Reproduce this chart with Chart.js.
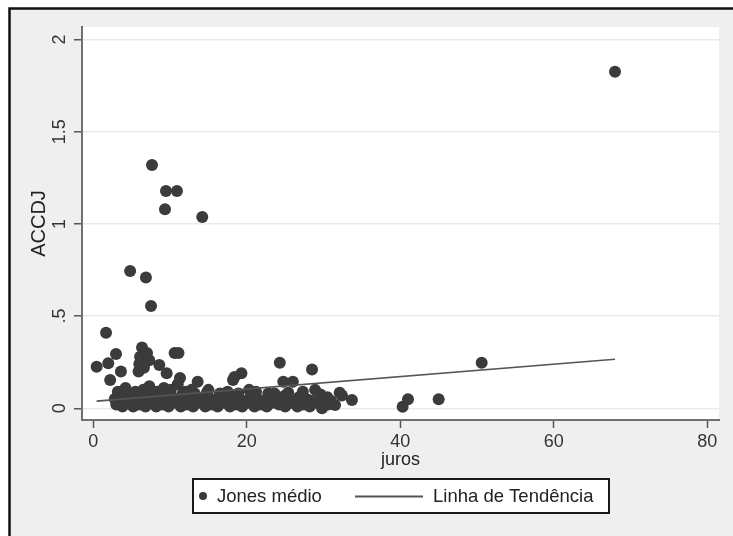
<!DOCTYPE html>
<html>
<head>
<meta charset="utf-8">
<script src="https://cdn.jsdelivr.net/npm/chart.js@4.4.1/dist/chart.umd.min.js"></script>
<style>
  html, body { margin: 0; padding: 0; background: #ffffff; }
  #chart { display: block; }
</style>
</head>
<body>
<canvas id="chart" width="733" height="536"></canvas>
<script>
// Jones médio: juros (x) vs ACCDJ (y)
const juros = [
    67.97, 7.65, 9.47, 10.9, 9.34, 14.2, 4.8, 6.86, 7.52, 1.66,
    0.44, 1.95, 2.96, 3.6, 2.2, 6.35, 6.1, 7.0, 7.3, 6.0,
    6.6, 5.9, 8.6, 10.6, 11.1, 9.56, 11.3, 13.6, 18.2, 19.3,
    24.3, 28.5, 24.75, 26.0, 28.9, 32.1, 50.6, 41.0, 40.3, 45.0,
    33.7, 31.5, 3.7,
    // bottom row
    3.0, 3.8, 4.5, 5.2, 6.0, 6.8, 7.5, 8.2, 9.0, 9.8,
    10.6, 11.4, 12.2, 13.0, 13.8, 14.6, 15.4, 16.2, 17.0, 17.8,
    18.6, 19.4, 20.2, 21.0, 21.8, 22.6, 23.4, 24.2, 25.0, 25.8,
    26.6, 27.4, 28.2, 29.0, 29.8, 30.6,
    // low-middle row
    3.4, 4.9, 6.4, 7.8, 9.3, 10.8, 12.4, 14.0, 15.8, 17.4,
    19.0, 20.8, 22.5, 24.5, 26.2, 28.0, 29.5, 31.0,
    // middle row
    2.8, 3.6, 4.4, 5.3, 6.1, 7.0, 7.9, 8.7, 9.5, 10.3,
    11.1, 11.9, 12.8, 13.6, 14.5, 15.3, 16.1, 17.0, 17.9, 18.8,
    19.6, 20.5, 21.4, 22.3, 23.1, 24.0, 25.0, 25.9, 26.8, 27.7,
    28.6, 30.5,
    // upper-middle row
    4.0, 5.8, 7.6, 9.9, 11.6, 13.2, 14.8, 16.8, 18.9, 20.6,
    23.6, 25.4, 29.6,
    // upper row
    3.2, 4.2, 5.5, 6.5, 7.3, 8.3, 9.2, 10.1, 11.0, 12.0,
    12.8, 15.0, 16.5, 17.5, 18.4, 20.3, 21.2, 22.8, 27.3, 32.4
]
const accdj = [
    1.825, 1.32, 1.178, 1.178, 1.08, 1.038, 0.745, 0.71, 0.555, 0.41,
    0.225, 0.244, 0.294, 0.2, 0.154, 0.33, 0.28, 0.3, 0.26, 0.24,
    0.22, 0.2, 0.235, 0.3, 0.3, 0.19, 0.164, 0.144, 0.154, 0.19,
    0.247, 0.211, 0.144, 0.144, 0.1, 0.085, 0.247, 0.049, 0.009, 0.049,
    0.045, 0.018, 0.09,
    0.02, 0.01, 0.03, 0.01, 0.02, 0.01, 0.03, 0.01, 0.02, 0.01,
    0.03, 0.01, 0.02, 0.01, 0.03, 0.01, 0.02, 0.01, 0.03, 0.01,
    0.02, 0.01, 0.03, 0.01, 0.02, 0.01, 0.03, 0.02, 0.01, 0.03,
    0.01, 0.02, 0.01, 0.03, 0.0, 0.02,
    0.04, 0.035, 0.045, 0.04, 0.035, 0.045, 0.04, 0.035, 0.04, 0.045,
    0.035, 0.04, 0.045, 0.035, 0.04, 0.045, 0.035, 0.04,
    0.05, 0.06, 0.04, 0.07, 0.05, 0.06, 0.04, 0.07, 0.05, 0.06,
    0.04, 0.07, 0.05, 0.04, 0.06, 0.05, 0.04, 0.06, 0.05, 0.07,
    0.04, 0.06, 0.05, 0.04, 0.06, 0.05, 0.07, 0.04, 0.06, 0.05,
    0.04, 0.06,
    0.08, 0.075, 0.085, 0.08, 0.075, 0.08, 0.085, 0.075, 0.08, 0.075,
    0.08, 0.085, 0.075,
    0.09, 0.11, 0.09, 0.1, 0.12, 0.09, 0.11, 0.1, 0.13, 0.09,
    0.1, 0.1, 0.08, 0.09, 0.17, 0.1, 0.09, 0.08, 0.09, 0.07
]

// Linha de Tendência endpoints
const trendX = [0.44, 67.97]
const trendY = [0.039, 0.266]

const xTicks = [0, 20, 40, 60, 80]
const xTickLabels = ['0', '20', '40', '60', '80']
const yTicks = [0, 0.5, 1, 1.5, 2]
const yTickLabels = ['0', '.5', '1', '1.5', '2']

const FONT = '"Liberation Sans", Arial, sans-serif'
const MARKER = '#3b3b3b'

const stataFrame = {
    id: 'stataFrame',
    beforeDraw(chart) {
        const ctx = chart.ctx
        ctx.save()
        ctx.fillStyle = '#ffffff'
        ctx.fillRect(0, 0, chart.width, chart.height)
        ctx.fillStyle = '#efefef'
        ctx.fillRect(10, 9, chart.width - 10, chart.height - 9)
        // outer black frame (only top and left visible)
        ctx.strokeStyle = '#111111'
        ctx.lineWidth = 2.5
        ctx.beginPath()
        ctx.moveTo(9.5, chart.height)
        ctx.lineTo(9.5, 8.5)
        ctx.lineTo(chart.width, 8.5)
        ctx.stroke()
        // white plot region
        const a = chart.chartArea
        ctx.fillStyle = '#ffffff'
        ctx.fillRect(a.left, a.top, a.right - a.left, a.bottom - a.top)
        ctx.restore()
    }
}

const boxLegend = {
    id: 'boxLegend',
    afterDraw(chart) {
        const ctx = chart.ctx
        const ds = chart.data.datasets
        ctx.save()
        ctx.fillStyle = '#ffffff'
        ctx.fillRect(193, 479, 416, 34)
        ctx.strokeStyle = '#1a1a1a'
        ctx.lineWidth = 2
        ctx.strokeRect(193, 479, 416, 34)
        ctx.font = '18.5px ' + FONT
        ctx.textBaseline = 'middle'
        // marker entry
        ctx.beginPath()
        ctx.arc(203, 496, 4, 0, Math.PI * 2)
        ctx.fillStyle = MARKER
        ctx.fill()
        ctx.fillStyle = '#222222'
        ctx.fillText(ds[0].label, 217, 497)
        // line entry
        ctx.strokeStyle = '#555555'
        ctx.lineWidth = 2
        ctx.beginPath()
        ctx.moveTo(355, 496.5)
        ctx.lineTo(423, 496.5)
        ctx.stroke()
        ctx.fillText(ds[1].label, 433, 497)
        ctx.restore()
    }
}

const ctx = document.getElementById('chart').getContext('2d')
new Chart(ctx, {
    type: 'scatter',
    data: {
        datasets: [{
            label: 'Jones médio',
            data: juros.map((x, i) => ({ x: x, y: accdj[i] })),
            backgroundColor: MARKER,
            borderColor: MARKER,
            borderWidth: 0,
            pointRadius: 6,
            order: 2
        }, {
            label: 'Linha de Tendência',
            type: 'line',
            data: trendX.map((x, i) => ({ x: x, y: trendY[i] })),
            borderColor: '#555555',
            borderWidth: 1.6,
            pointRadius: 0,
            fill: false,
            order: 1
        }]
    },
    options: {
        responsive: false,
        animation: false,
        devicePixelRatio: 1,
        layout: {
            padding: { left: 0, top: 27, right: 14, bottom: 64 }
        },
        plugins: {
            legend: { display: false },
            tooltip: { enabled: false }
        },
        scales: {
            x: {
                type: 'linear',
                min: -1.47,
                max: 81.52,
                afterBuildTicks: s => { s.ticks = xTicks.map(v => ({ value: v })) },
                afterFit: s => { s.height = 52 },
                border: { display: true, color: '#707070', width: 2 },
                grid: {
                    drawOnChartArea: false,
                    drawTicks: true,
                    tickLength: 8,
                    tickColor: '#555555',
                    tickWidth: 1.5
                },
                ticks: {
                    color: '#333333',
                    font: { family: FONT, size: 18 },
                    padding: 3,
                    maxRotation: 0,
                    callback: (v, i) => xTickLabels[i]
                },
                title: {
                    display: true,
                    text: 'juros',
                    color: '#222222',
                    font: { family: FONT, size: 18 },
                    padding: { top: 0, bottom: 1 }
                }
            },
            y: {
                type: 'linear',
                min: -0.0634,
                max: 2.0678,
                afterBuildTicks: s => { s.ticks = yTicks.map(v => ({ value: v })) },
                afterFit: s => { s.width = 82 },
                border: { display: true, color: '#707070', width: 2 },
                grid: {
                    color: '#ebebeb',
                    lineWidth: 1.5,
                    drawTicks: true,
                    tickLength: 8,
                    tickColor: '#555555',
                    tickWidth: 1.5
                },
                ticks: {
                    color: '#333333',
                    font: { family: FONT, size: 18 },
                    padding: 1,
                    minRotation: 90,
                    maxRotation: 90,
                    crossAlign: 'center',
                    callback: (v, i) => yTickLabels[i]
                },
                title: {
                    display: true,
                    text: 'ACCDJ',
                    color: '#222222',
                    font: { family: FONT, size: 20 },
                    padding: { top: 27, bottom: 0 }
                }
            }
        }
    },
    plugins: [stataFrame, boxLegend]
})
</script>
</body>
</html>
